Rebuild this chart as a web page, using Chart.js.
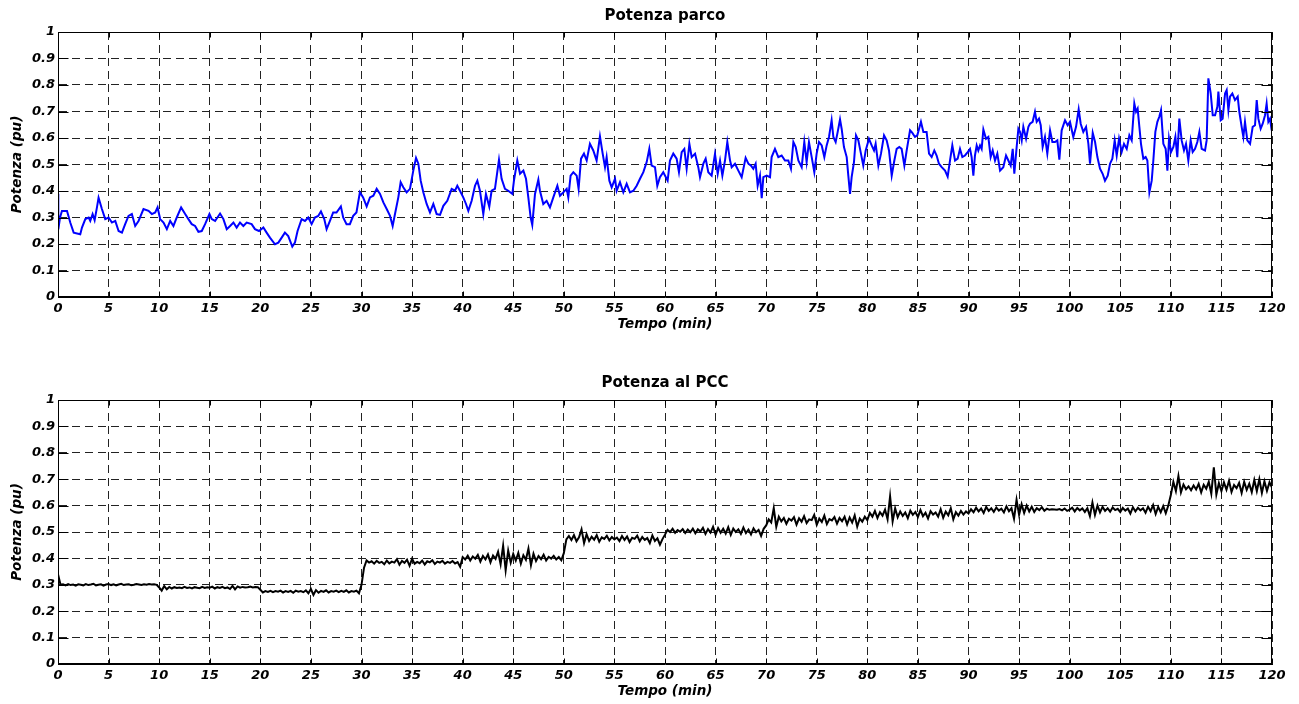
<!DOCTYPE html>
<html lang="it">
<head>
  <meta charset="UTF-8">
  <title>Potenza parco - Potenza al PCC</title>
  <script src="https://cdn.jsdelivr.net/npm/chart.js"></script>
  <style>
    html, body {
      margin: 0;
      padding: 0;
      background-color: #ffffff;
    }

    .panel {
      position: absolute;
      left: 0;
      width: 1299px;
      height: 352px;
    }

    #panelTop { top: 0; }
    #panelBottom { top: 352px; }
  </style>
</head>
<body>
  <!-- Potenza parco -->
  <div class="panel" id="panelTop">
    <canvas id="parcoChart" width="1299" height="352"></canvas>
  </div>

  <!-- Potenza al PCC -->
  <div class="panel" id="panelBottom">
    <canvas id="pccChart" width="1299" height="352"></canvas>
  </div>

  <script>
    // Potenza parco: tempo (min) e potenza (pu)
    const tParco = [
      0, 0.03, 0.2, 0.39, 0.89, 1.22, 1.55, 2.2, 2.37, 2.7,
      3.03, 3.19, 3.42, 3.62, 3.85, 4.01, 4.34, 4.67, 5.0, 5.33,
      5.66, 5.99, 6.32, 6.64, 6.97, 7.3, 7.63, 7.96, 8.45, 8.95,
      9.28, 9.61, 9.84, 10.1, 10.43, 10.76, 11.09, 11.41, 11.74, 12.17,
      12.57, 12.89, 13.22, 13.55, 13.88, 14.21, 14.54, 14.97, 15.2, 15.53,
      16.02, 16.35, 16.68, 17.01, 17.34, 17.66, 17.99, 18.32, 18.65, 19.14,
      19.47, 19.87, 20.3, 20.62, 20.95, 21.45, 21.78, 22.11, 22.43, 22.76,
      23.16, 23.42, 23.68, 24.08, 24.41, 24.74, 25.07, 25.39, 25.72, 25.99,
      26.32, 26.55, 26.88, 27.2, 27.53, 27.96, 28.19, 28.52, 28.85, 29.18,
      29.5, 29.84, 30.16,
      30.51, 30.84, 31.17, 31.5, 31.83, 32.16, 32.49, 32.82, 33.08, 33.31,
      33.64, 33.87, 34.13, 34.46, 34.79, 35.12, 35.39, 35.62, 35.85, 36.11,
      36.44, 36.77, 37.1, 37.43, 37.76, 38.09, 38.48, 38.91, 39.24, 39.47,
      39.73, 40.06, 40.33, 40.56, 40.89, 41.22, 41.45, 41.71, 42.04, 42.3,
      42.63, 42.86, 43.19, 43.42, 43.59, 43.85, 44.18, 44.51, 44.91, 45.07,
      45.4, 45.67, 46.0, 46.26, 46.49, 46.72, 46.88, 47.15, 47.48, 47.64,
      47.97, 48.3, 48.63, 48.96, 49.36, 49.62, 49.95, 50.28, 50.44, 50.67,
      50.94, 51.27, 51.46, 51.7, 51.99, 52.26, 52.58, 52.91, 53.24, 53.57,
      53.84, 54.07, 54.23, 54.5, 54.73, 55.06, 55.22, 55.55, 55.88, 56.21,
      56.54, 56.87, 57.2, 57.53, 57.86, 58.19, 58.45, 58.68, 59.01, 59.24,
      59.5, 59.83,
      60.26, 60.49, 60.82, 61.15, 61.38, 61.65, 61.91, 62.14, 62.41, 62.64,
      62.97, 63.29, 63.46, 63.79, 64.02, 64.28, 64.61, 64.94, 65.21, 65.44,
      65.67, 65.93, 66.16, 66.43, 66.59, 66.92, 67.25, 67.58, 67.97, 68.24,
      68.5, 68.73, 68.96, 69.16, 69.39, 69.56, 69.72, 70.05, 70.38, 70.54,
      70.87, 71.2, 71.53, 71.86, 72.19, 72.45, 72.69, 72.92, 73.18, 73.51,
      73.77, 74.0, 74.23, 74.5, 74.76, 74.99, 75.22, 75.49, 75.75, 75.98,
      76.21, 76.47, 76.64, 76.87, 77.07, 77.3, 77.46, 77.69, 77.96, 78.12,
      78.29, 78.45, 78.68, 78.88, 79.11, 79.37, 79.6, 79.84, 80.16, 80.43,
      80.66, 80.82, 81.09, 81.35, 81.65, 81.91, 82.14, 82.41, 82.67, 82.9,
      83.16, 83.39, 83.66, 83.89, 84.22, 84.45, 84.71, 84.94, 85.3, 85.54,
      85.86, 86.1, 86.36, 86.62, 86.85, 87.08, 87.35, 87.68, 87.94, 88.17,
      88.4, 88.67, 88.93, 89.16, 89.39, 89.65, 89.92,
      90.15, 90.31, 90.48, 90.64, 90.81, 90.97, 91.14, 91.3, 91.47, 91.73,
      91.96, 92.19, 92.39, 92.62, 92.85, 93.12, 93.44, 93.71, 93.94, 94.17,
      94.37, 94.53, 94.76, 94.93, 95.09, 95.26, 95.42, 95.69, 95.92, 96.08,
      96.34, 96.57, 96.74, 96.97, 97.14, 97.33, 97.56, 97.79, 98.06, 98.29,
      98.55, 98.78, 98.98, 99.21, 99.54, 99.8, 100.03, 100.36, 100.63, 100.89,
      101.09, 101.35, 101.62, 101.85, 102.01, 102.28, 102.51, 102.74, 103.0, 103.26,
      103.49, 103.76, 103.99, 104.22, 104.45, 104.65, 104.88, 105.14, 105.37, 105.64,
      105.9, 106.13, 106.39, 106.56, 106.72, 106.89, 107.05, 107.28, 107.51, 107.68,
      107.88, 108.11, 108.27, 108.47, 108.67, 108.86, 109.03, 109.26, 109.49, 109.66,
      109.82, 110.02, 110.25, 110.45, 110.64, 110.84, 111.07, 111.3, 111.5, 111.73,
      111.96, 112.16, 112.39, 112.62, 112.82, 113.05, 113.38, 113.54, 113.71, 113.94,
      114.14, 114.37, 114.6, 114.7, 114.93, 115.12, 115.36, 115.52, 115.69, 115.85,
      116.08, 116.34, 116.61, 116.77, 117.0, 117.17, 117.33, 117.56, 117.83, 118.09,
      118.32, 118.49, 118.65, 118.88, 119.08, 119.31, 119.47, 119.64, 119.8, 119.97
    ];

    const pParco = [
      0.39, 0.255, 0.30, 0.325, 0.325, 0.28, 0.243, 0.237, 0.262, 0.294,
      0.30, 0.287, 0.313, 0.29, 0.338, 0.375, 0.332, 0.294, 0.30, 0.281,
      0.287, 0.249, 0.243, 0.275, 0.306, 0.313, 0.268, 0.287, 0.332, 0.325,
      0.313, 0.319, 0.338, 0.294, 0.281, 0.256, 0.287, 0.268, 0.30, 0.338,
      0.313, 0.294, 0.275, 0.268, 0.246, 0.249, 0.275, 0.313, 0.294, 0.287,
      0.315, 0.294, 0.256, 0.268, 0.281, 0.262, 0.281, 0.268, 0.281, 0.275,
      0.256, 0.249, 0.262, 0.243, 0.224, 0.199, 0.205, 0.224, 0.243, 0.230,
      0.190, 0.205, 0.249, 0.294, 0.287, 0.30, 0.275, 0.30, 0.306, 0.323,
      0.294, 0.256, 0.287, 0.319, 0.319, 0.342, 0.30, 0.275, 0.275, 0.306,
      0.319, 0.395, 0.376,
      0.342, 0.376, 0.382, 0.408, 0.389, 0.357, 0.332, 0.306, 0.268, 0.313,
      0.376, 0.433, 0.414, 0.395, 0.408, 0.477, 0.525, 0.503, 0.439, 0.395,
      0.351, 0.319, 0.351, 0.313, 0.310, 0.344, 0.363, 0.408, 0.401, 0.420,
      0.401, 0.376, 0.351, 0.325, 0.363, 0.420, 0.439, 0.401, 0.313, 0.389,
      0.341, 0.401, 0.408, 0.471, 0.518, 0.446, 0.408, 0.401, 0.389, 0.439,
      0.515, 0.465, 0.477, 0.446, 0.376, 0.30, 0.272, 0.389, 0.443, 0.401,
      0.351, 0.363, 0.338, 0.376, 0.420, 0.382, 0.395, 0.408, 0.376, 0.458,
      0.471, 0.458, 0.408, 0.522, 0.541, 0.515, 0.578, 0.553, 0.515, 0.606,
      0.541, 0.490, 0.528, 0.439, 0.414, 0.446, 0.401, 0.433, 0.395, 0.427,
      0.395, 0.401, 0.420, 0.446, 0.471, 0.509, 0.559, 0.496, 0.490, 0.420,
      0.452, 0.471,
      0.439, 0.515, 0.541, 0.522, 0.471, 0.547, 0.559, 0.484, 0.578, 0.528,
      0.541, 0.490, 0.452, 0.503, 0.522, 0.471, 0.458, 0.540, 0.465, 0.515,
      0.458, 0.515, 0.585, 0.515, 0.490, 0.503, 0.477, 0.452, 0.525, 0.503,
      0.496, 0.484, 0.503, 0.420, 0.458, 0.373, 0.452, 0.458, 0.452, 0.528,
      0.559, 0.528, 0.534, 0.515, 0.515, 0.484, 0.585, 0.566, 0.515, 0.490,
      0.585, 0.509, 0.585, 0.528, 0.471, 0.541, 0.585, 0.572, 0.528, 0.572,
      0.604, 0.667, 0.604, 0.585, 0.623, 0.670, 0.635, 0.566, 0.528, 0.458,
      0.389, 0.452, 0.509, 0.610, 0.591, 0.541, 0.496, 0.553, 0.597, 0.572,
      0.553, 0.578, 0.496, 0.541, 0.610, 0.591, 0.553, 0.458, 0.515, 0.559,
      0.566, 0.559, 0.496, 0.553, 0.629, 0.619, 0.604, 0.610, 0.661, 0.623,
      0.623, 0.541, 0.528, 0.553, 0.534, 0.503, 0.490, 0.477, 0.454, 0.515,
      0.572, 0.515, 0.522, 0.559, 0.528, 0.534, 0.547,
      0.559, 0.528, 0.458, 0.534, 0.572, 0.553, 0.572, 0.559, 0.632, 0.597,
      0.604, 0.528, 0.553, 0.515, 0.541, 0.477, 0.490, 0.534, 0.515, 0.496,
      0.559, 0.465, 0.566, 0.635, 0.623, 0.591, 0.642, 0.597, 0.642, 0.654,
      0.661, 0.699, 0.661, 0.673, 0.648, 0.566, 0.604, 0.541, 0.629, 0.585,
      0.585, 0.591, 0.518, 0.629, 0.667, 0.648, 0.661, 0.604, 0.642, 0.708,
      0.654, 0.623, 0.642, 0.578, 0.503, 0.619, 0.585, 0.528, 0.484, 0.465,
      0.439, 0.458, 0.503, 0.522, 0.591, 0.534, 0.597, 0.547, 0.578, 0.559,
      0.610, 0.591, 0.730, 0.699, 0.711, 0.642, 0.578, 0.522, 0.528, 0.515,
      0.395, 0.439, 0.515, 0.623, 0.661, 0.680, 0.705, 0.578, 0.559, 0.477,
      0.597, 0.547, 0.566, 0.604, 0.528, 0.673, 0.591, 0.553, 0.578, 0.515,
      0.591, 0.547, 0.559, 0.585, 0.623, 0.559, 0.553, 0.591, 0.825, 0.768,
      0.686, 0.686, 0.718, 0.775, 0.667, 0.673, 0.768, 0.781, 0.705, 0.756,
      0.768, 0.743, 0.756, 0.699, 0.642, 0.604, 0.661, 0.591, 0.578, 0.642,
      0.648, 0.743, 0.673, 0.635, 0.654, 0.686, 0.730, 0.661, 0.673, 0.629
    ];

    // Potenza al PCC: un campione ogni 0.25 min, da 0 a 120
    const pccStep = 0.25;
    const pPcc = [
      // 0 - 10
      0.340, 0.300, 0.302, 0.298, 0.303, 0.299, 0.301, 0.297, 0.302, 0.300,
      0.298, 0.303, 0.299, 0.301, 0.304, 0.298, 0.300, 0.302, 0.297, 0.301,
      0.303, 0.299, 0.302, 0.298, 0.301, 0.304, 0.299, 0.301, 0.302, 0.298,
      0.300, 0.303, 0.301, 0.299, 0.302, 0.300, 0.303, 0.301, 0.302, 0.300,
      // 10 - 20
      0.290, 0.278, 0.295, 0.283, 0.292, 0.286, 0.291, 0.288, 0.290, 0.287,
      0.292, 0.288, 0.290, 0.286, 0.291, 0.289, 0.287, 0.292, 0.288, 0.291,
      0.289, 0.293, 0.286, 0.291, 0.288, 0.292, 0.287, 0.290, 0.284, 0.296,
      0.283, 0.294, 0.289, 0.292, 0.290, 0.291, 0.293, 0.290, 0.292, 0.291,
      // 20 - 30
      0.281, 0.271, 0.276, 0.273, 0.277, 0.272, 0.276, 0.274, 0.278, 0.271,
      0.276, 0.273, 0.277, 0.270, 0.278, 0.274, 0.276, 0.272, 0.279, 0.268,
      0.284, 0.262, 0.280, 0.270, 0.277, 0.273, 0.279, 0.271, 0.276, 0.274,
      0.278, 0.272, 0.277, 0.273, 0.279, 0.271, 0.276, 0.274, 0.278, 0.268,
      // 30 - 40
      0.300, 0.365, 0.392, 0.384, 0.389, 0.380, 0.391, 0.383, 0.387, 0.378,
      0.392, 0.381, 0.388, 0.384, 0.397, 0.376, 0.390, 0.383, 0.395, 0.372,
      0.399, 0.380, 0.387, 0.382, 0.392, 0.377, 0.389, 0.385, 0.393, 0.379,
      0.388, 0.384, 0.391, 0.380, 0.387, 0.383, 0.390, 0.381, 0.386, 0.368,
      // 40 - 50
      0.405, 0.396, 0.410, 0.392, 0.407, 0.399, 0.413, 0.388, 0.409, 0.396,
      0.415, 0.385, 0.411, 0.398, 0.425, 0.378, 0.448, 0.355, 0.430, 0.384,
      0.417, 0.392, 0.421, 0.380, 0.412, 0.395, 0.437, 0.374, 0.418, 0.390,
      0.409, 0.397, 0.414, 0.392, 0.406, 0.399, 0.410, 0.396, 0.405, 0.393,
      // 50 - 60
      0.420, 0.472, 0.485, 0.470, 0.488, 0.465, 0.480, 0.510, 0.458, 0.492,
      0.466, 0.482, 0.471, 0.488, 0.463, 0.480, 0.474, 0.486, 0.468, 0.481,
      0.472, 0.479, 0.466, 0.485, 0.470, 0.483, 0.462, 0.478, 0.474, 0.486,
      0.465, 0.481, 0.470, 0.477, 0.458, 0.487, 0.466, 0.476, 0.452, 0.473,
      // 60 - 70
      0.490, 0.508, 0.500, 0.512, 0.497, 0.507, 0.501, 0.511, 0.496, 0.509,
      0.499, 0.513, 0.495, 0.510, 0.502, 0.516, 0.493, 0.511, 0.498, 0.520,
      0.490, 0.515, 0.497, 0.512, 0.494, 0.518, 0.489, 0.513, 0.500, 0.510,
      0.493, 0.517, 0.496, 0.509, 0.491, 0.514, 0.499, 0.508, 0.485, 0.512,
      // 70 - 80
      0.525, 0.548, 0.536, 0.590, 0.520, 0.558, 0.540, 0.553, 0.531, 0.550,
      0.543, 0.556, 0.528, 0.552, 0.539, 0.560, 0.534, 0.548, 0.545, 0.565,
      0.527, 0.551, 0.538, 0.562, 0.530, 0.549, 0.544, 0.557, 0.532, 0.553,
      0.541, 0.558, 0.529, 0.555, 0.536, 0.563, 0.520, 0.551, 0.539, 0.558,
      // 80 - 90
      0.545, 0.572, 0.558, 0.580, 0.553, 0.575, 0.562, 0.585, 0.548, 0.635,
      0.540, 0.590, 0.556, 0.578, 0.561, 0.574, 0.552, 0.581, 0.565, 0.576,
      0.557, 0.583, 0.560, 0.573, 0.551, 0.579, 0.566, 0.574, 0.558, 0.586,
      0.554, 0.577, 0.563, 0.590, 0.548, 0.575, 0.562, 0.580, 0.566, 0.578,
      // 90 - 100
      0.570, 0.586, 0.575, 0.592, 0.578, 0.589, 0.572, 0.595, 0.580, 0.590,
      0.576, 0.593, 0.581, 0.588, 0.574, 0.597, 0.579, 0.590, 0.550, 0.622,
      0.565, 0.605, 0.572, 0.600, 0.578, 0.596, 0.576, 0.590, 0.583, 0.594,
      0.580, 0.588, 0.584, 0.586, 0.585, 0.584, 0.587, 0.582, 0.589, 0.580,
      // 100 - 110
      0.585, 0.592, 0.578, 0.591, 0.582, 0.589, 0.576, 0.590, 0.560, 0.612,
      0.565, 0.600, 0.574, 0.595, 0.580, 0.590, 0.577, 0.593, 0.583, 0.588,
      0.576, 0.591, 0.581, 0.589, 0.570, 0.594, 0.578, 0.592, 0.582, 0.590,
      0.573, 0.596, 0.579, 0.602, 0.568, 0.595, 0.575, 0.598, 0.571, 0.600,
      // 110 - 120
      0.640, 0.690, 0.655, 0.712, 0.650, 0.680, 0.662, 0.673, 0.658, 0.676,
      0.661, 0.682, 0.650, 0.679, 0.664, 0.690, 0.645, 0.745, 0.642, 0.685,
      0.655, 0.688, 0.660, 0.694, 0.652, 0.678, 0.666, 0.686, 0.648, 0.690,
      0.660, 0.683, 0.651, 0.697, 0.655, 0.700, 0.648, 0.692, 0.656, 0.688,
      0.668
    ];
    const tPcc = pPcc.map((_, i) => i * pccStep);

    // assi come in MATLAB
    const xTicks = { min: 0, max: 120, step: 5 };
    const yTicks = { min: 0, max: 1, step: 0.1 };

    const tickFont = { family: 'DejaVu Sans', size: 13, weight: 'bold', style: 'italic' };
    const labelFont = { family: 'DejaVu Sans', size: 13.5, weight: 'bold', style: 'italic' };

    // cornice completa e tacche interne
    const axesBox = {
      id: 'axesBox',
      afterDraw(chart) {
        const { ctx, chartArea: a, scales: { x, y } } = chart;
        const left = Math.round(a.left) + 0.5;
        const right = Math.round(a.right) - 0.5;
        const top = Math.round(a.top) + 0.5;
        const bottom = Math.round(a.bottom) - 0.5;
        ctx.save();
        ctx.strokeStyle = '#000';
        ctx.lineWidth = 1;
        ctx.beginPath();
        x.ticks.forEach(t => {
          const px = Math.round(x.getPixelForValue(t.value)) + 0.5;
          ctx.moveTo(px, bottom); ctx.lineTo(px, bottom - 5);
          ctx.moveTo(px, top); ctx.lineTo(px, top + 5);
        });
        y.ticks.forEach(t => {
          const py = Math.round(y.getPixelForValue(t.value)) + 0.5;
          ctx.moveTo(left, py); ctx.lineTo(left + 10, py);
          ctx.moveTo(right, py); ctx.lineTo(right - 10, py);
        });
        ctx.stroke();
        ctx.strokeRect(left, top, right - left, bottom - top);
        ctx.restore();
      }
    };

    function makeChart(canvasId, title, xs, ys, color, layout) {
      return new Chart(document.getElementById(canvasId), {
        type: 'line',
        data: {
          datasets: [{
            data: xs.map((t, i) => ({ x: t, y: ys[i] })),
            borderColor: color,
            borderWidth: 2,
            pointRadius: 0,
            tension: 0,
            fill: false
          }]
        },
        options: {
          responsive: false,
          animation: false,
          layout: { padding: { left: 0, right: 27, top: 0, bottom: 0 } },
          plugins: {
            legend: { display: false },
            tooltip: { enabled: false },
            title: {
              display: true,
              text: title,
              color: '#000',
              fullSize: false,
              font: { family: 'DejaVu Sans', size: 15, weight: 'bold' },
              padding: { top: layout.titleTop, bottom: layout.titleBottom }
            }
          },
          scales: {
            x: {
              type: 'linear',
              min: xTicks.min,
              max: xTicks.max,
              afterFit: s => { s.height = layout.xHeight; },
              ticks: {
                stepSize: xTicks.step,
                autoSkip: false,
                maxRotation: 0,
                padding: 4,
                color: '#000',
                font: tickFont
              },
              grid: { color: '#222', lineWidth: 1, drawTicks: false },
              border: { display: true, color: '#000', width: 1, dash: [8, 5] },
              title: {
                display: true,
                text: 'Tempo (min)',
                color: '#000',
                font: labelFont,
                padding: { top: 0, bottom: layout.xTitleBottom }
              }
            },
            y: {
              min: yTicks.min,
              max: yTicks.max,
              afterFit: s => { s.width = 58; },
              ticks: {
                stepSize: yTicks.step,
                padding: 3,
                color: '#000',
                font: tickFont,
                callback: v => String(+v.toFixed(1))
              },
              grid: { color: '#222', lineWidth: 1, drawTicks: false },
              border: { display: true, color: '#000', width: 1, dash: [8, 5] },
              title: {
                display: true,
                text: 'Potenza (pu)',
                color: '#000',
                font: labelFont,
                padding: { top: 9, bottom: 0 }
              }
            }
          }
        },
        plugins: [axesBox]
      });
    }

    makeChart('parcoChart', 'Potenza parco', tParco, pParco, '#0000ff',
      { titleTop: 7, titleBottom: 7, xHeight: 55, xTitleBottom: 19 });

    makeChart('pccChart', 'Potenza al PCC', tPcc, pPcc, '#000000',
      { titleTop: 22, titleBottom: 8, xHeight: 40, xTitleBottom: 4 });
  </script>
</body>
</html>
